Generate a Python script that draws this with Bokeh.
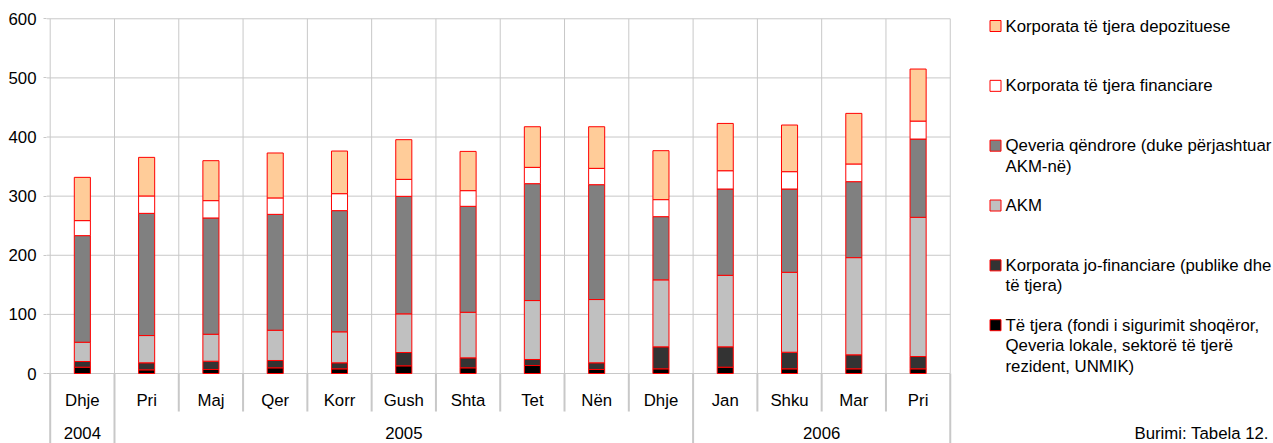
from bokeh.plotting import figure
from bokeh.models import ColumnDataSource, Range1d, FixedTicker
from bokeh.layouts import row
from bokeh.embed import file_html
from bokeh.resources import INLINE
from bokeh.core.properties import value

# ---------------- data ----------------
months = ["Dhje", "Pri", "Maj", "Qer", "Korr", "Gush", "Shta", "Tet", "Nën",
          "Dhje", "Jan", "Shku", "Mar", "Pri"]
years = ["2004", "2005", "2006"]
year_counts = [1, 9, 4]

te_tjera = [10.7, 6.2, 6.8, 9.6, 7.9, 13.0, 9.6, 13.5, 6.8, 7.9, 10.7, 7.9, 7.9, 7.9]
jo_financiare = [9.6, 11.9, 14.0, 12.4, 10.2, 22.5, 16.9, 10.2, 11.3, 37.2, 34.4, 28.1, 23.7, 20.8]
akm = [32.6, 46.1, 45.6, 51.2, 52.4, 65.4, 77.1, 99.7, 107.0, 113.3, 121.0, 135.2, 164.4, 235.5]
qeveria = [180.3, 206.7, 196.7, 196.0, 205.0, 198.8, 179.2, 197.7, 194.3, 106.9, 146.0, 140.9, 128.5, 132.4]
ktf = [25.4, 29.4, 29.3, 27.8, 28.7, 28.7, 26.5, 27.6, 27.6, 28.8, 30.9, 29.3, 29.9, 30.4]
ktd = [73.2, 65.3, 67.6, 76.0, 72.1, 67.1, 66.4, 68.7, 70.4, 82.8, 80.0, 78.9, 85.6, 88.0]

y_ticks = [0, 100, 200, 300, 400, 500, 600]

series_keys = ["te_tjera", "jo_financiare", "akm", "qeveria", "ktf", "ktd"]
series_colors = ["#000000", "#333333", "#c0c0c0", "#808080", "#ffffff", "#ffcc99"]
legend_labels = [
    ["Korporata të tjera depozituese"],
    ["Korporata të tjera financiare"],
    ["Qeveria qëndrore (duke përjashtuar", "AKM-në)"],
    ["AKM"],
    ["Korporata jo-financiare (publike dhe", "të tjera)"],
    ["Të tjera (fondi i sigurimit shoqëror,", "Qeveria lokale, sektorë të tjerë", "rezident, UNMIK)"],
]
source_note = "Burimi: Tabela 12."

FONT = value("Liberation Sans")
FSIZE = "16.8px"
GRID = "#c8c8c8"
EDGE = "#ff0000"
H = 443

# ---------------- main chart ----------------
n = len(months)
x_start = -0.0576
p = figure(width=955, height=H,
           x_range=Range1d(x_start, n + 0.0505), y_range=Range1d(-118.4, 617.4),
           x_axis_location=None, output_backend="svg", toolbar_location=None,
           min_border_left=46, min_border_right=2, min_border_top=8, min_border_bottom=0)
p.grid.visible = False
p.outline_line_color = None
p.background_fill_color = "white"
p.border_fill_color = "white"

ya = p.yaxis[0]
ya.ticker = FixedTicker(ticks=y_ticks)
ya.axis_line_color = None
ya.major_tick_in = 0
ya.major_tick_out = 3
ya.major_tick_line_color = GRID
ya.minor_tick_line_color = None
ya.major_label_standoff = 7
ya.major_label_text_font = "Liberation Sans"
ya.major_label_text_font_size = FSIZE
ya.major_label_text_color = "#000000"

# horizontal gridlines
p.segment(x0=[x_start] * len(y_ticks), x1=[n] * len(y_ticks), y0=y_ticks, y1=y_ticks,
          line_color=GRID, line_width=1)
# vertical gridlines at category boundaries
bounds = list(range(n + 1))
p.segment(x0=bounds, x1=bounds, y0=[0] * len(bounds), y1=[y_ticks[-1]] * len(bounds),
          line_color=GRID, line_width=1)

# category axis separators below the plot
year_bounds = [0]
for c in year_counts:
    year_bounds.append(year_bounds[-1] + c)
sep_bottom = [-118.4 if b in year_bounds else -64.3 for b in bounds]
p.segment(x0=bounds, x1=bounds, y0=[0] * len(bounds), y1=sep_bottom,
          line_color=GRID, line_width=2)

# stacked bars
data = dict(x=[i + 0.5 for i in range(n)], te_tjera=te_tjera, jo_financiare=jo_financiare,
            akm=akm, qeveria=qeveria, ktf=ktf, ktd=ktd)
src = ColumnDataSource(data)
p.vbar_stack(series_keys, x="x", width=0.25, source=src,
             fill_color=series_colors, line_color=EDGE, line_width=1)

# month labels
p.text(x=[i + 0.5 for i in range(n)], y=[-45.2] * n, text=months,
       text_font=FONT, text_font_size=FSIZE, text_color="#000000",
       text_align="center", text_baseline="middle")
# year labels
year_x = [(year_bounds[i] + year_bounds[i + 1]) / 2 for i in range(len(years))]
p.text(x=year_x, y=[-100.8] * len(years), text=years,
       text_font=FONT, text_font_size=FSIZE, text_color="#000000",
       text_align="center", text_baseline="middle")

# ---------------- legend panel ----------------
LW = 318
TOP = 8
lg = figure(width=LW, height=H, x_range=Range1d(955, 955 + LW), y_range=Range1d(H, TOP),
            x_axis_location=None, y_axis_location=None, output_backend="svg",
            toolbar_location=None, min_border_left=0, min_border_right=0,
            min_border_top=TOP, min_border_bottom=0)
lg.grid.visible = False
lg.outline_line_color = None
lg.border_fill_color = "white"

leg_colors = list(reversed(series_colors))
first_center = 25.5
step = 59.84
line_h = 20.4
centers = [first_center + k * step for k in range(len(legend_labels))]
lg.rect(x=[995] * len(centers), y=centers, width=11, height=11,
        fill_color=leg_colors, line_color=EDGE, line_width=1)
tx, ty, tt = [], [], []
for k, lines in enumerate(legend_labels):
    for j, line in enumerate(lines):
        tx.append(1005)
        ty.append(centers[k] + j * line_h)
        tt.append(line)
lg.text(x=tx, y=ty, text=tt, text_font=FONT, text_font_size=FSIZE, text_color="#000000",
        text_align="left", text_baseline="middle")
lg.text(x=[1134], y=[432.5], text=[source_note], text_font=FONT, text_font_size=FSIZE,
        text_color="#000000", text_align="left", text_baseline="middle")

layout = row(p, lg)

open("out.html", "w").write(file_html(layout, INLINE))
